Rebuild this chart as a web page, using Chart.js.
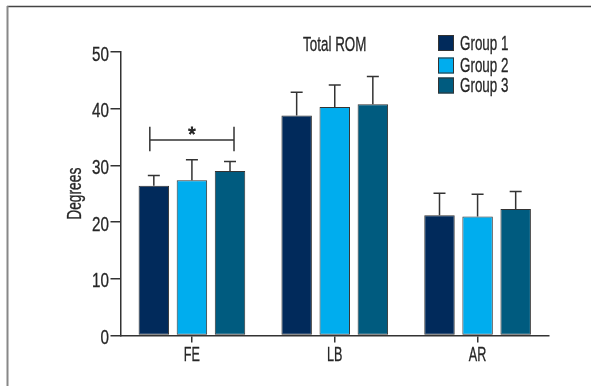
<!DOCTYPE html>
<html lang="en">
<head>
<meta charset="UTF-8">
<title>Total ROM</title>
<script src="https://cdn.jsdelivr.net/npm/chart.js@4"></script>
<style>
  body { margin: 0; background: #fff; }
  canvas { display: block; }
</style>
</head>
<body>
<canvas id="romChart" width="591" height="386"></canvas>
<script>
  // values
  const categories = ['FE', 'LB', 'AR'];
  const groupNames = ['Group 1', 'Group 2', 'Group 3'];
  const group1 = [26.4, 38.8, 21.2];
  const group2 = [27.4, 40.3, 21.0];
  const group3 = [29.0, 40.8, 22.3];
  const group1Err = [1.8, 4.1, 3.9];
  const group2Err = [3.6, 3.9, 3.9];
  const group3Err = [1.7, 4.9, 3.1];
  const yTicks = [0, 10, 20, 30, 40, 50];
  const colors = ['#012a5b', '#00adee', '#005b7f'];

  // the original uses a condensed face; squeeze Liberation Sans horizontally
  const FONT = "20px 'Liberation Sans', Arial, sans-serif";
  const INK = '#333';
  const TEXT = '#262626';

  function narrowText(ctx, text, x, y, align, sx, angle, weight) {
    ctx.save();
    ctx.translate(x, y);
    if (angle) ctx.rotate(angle);
    ctx.scale(sx, 1);
    ctx.font = FONT;
    ctx.fillStyle = TEXT;
    ctx.strokeStyle = TEXT;
    ctx.lineWidth = weight === undefined ? 0.3 : weight;
    ctx.textAlign = align;
    ctx.textBaseline = 'alphabetic';
    ctx.fillText(text, 0, 0);
    if (ctx.lineWidth > 0) ctx.strokeText(text, 0, 0);
    ctx.restore();
  }

  const extras = {
    id: 'extras',
    beforeDraw(chart) {
      const ctx = chart.ctx;
      ctx.save();
      // frame around the figure
      ctx.strokeStyle = '#444';
      ctx.lineWidth = 1.5;
      ctx.beginPath();
      ctx.moveTo(7, 6.5);
      ctx.lineTo(591, 6.5);
      ctx.stroke();
      ctx.strokeStyle = '#888';
      ctx.lineWidth = 2;
      ctx.beginPath();
      ctx.moveTo(7.5, 6);
      ctx.lineTo(7.5, 386);
      ctx.stroke();
      ctx.restore();
    },
    afterDatasetsDraw(chart) {
      const ctx = chart.ctx;
      const y = chart.scales.y;
      ctx.save();
      ctx.strokeStyle = INK;
      ctx.lineWidth = 1.5;
      // error bars (upper only)
      chart.data.datasets.forEach((ds, i) => {
        chart.getDatasetMeta(i).data.forEach((bar, j) => {
          const top = y.getPixelForValue(ds.data[j] + ds.err[j]);
          ctx.beginPath();
          ctx.moveTo(bar.x, bar.y);
          ctx.lineTo(bar.x, top);
          ctx.moveTo(bar.x - 6, top);
          ctx.lineTo(bar.x + 6, top);
          ctx.stroke();
        });
      });
      // significance bracket, FE group 1 vs group 3
      const b1 = chart.getDatasetMeta(0).data[0];
      const b3 = chart.getDatasetMeta(2).data[0];
      const x1 = b1.x - 4, x2 = b3.x + 4;
      const yl = y.getPixelForValue(34.5);
      const yHi = y.getPixelForValue(36.8);
      const yLo = y.getPixelForValue(32.5);
      ctx.beginPath();
      ctx.moveTo(x1, yl); ctx.lineTo(x2, yl);
      ctx.moveTo(x1, yHi); ctx.lineTo(x1, yLo);
      ctx.moveTo(x2, yHi); ctx.lineTo(x2, yLo);
      ctx.stroke();
      ctx.restore();
      narrowText(ctx, '*', (x1 + x2) / 2, yl + 1.5, 'center', 0.95, 0, 0);
    },
    afterDraw(chart) {
      const ctx = chart.ctx;
      const area = chart.chartArea;
      const x = chart.scales.x, y = chart.scales.y;

      // tick labels
      yTicks.forEach(v => {
        narrowText(ctx, String(v), area.left - 11.5, y.getPixelForValue(v) + 8.5, 'right', 0.76);
      });
      categories.forEach((c, i) => {
        narrowText(ctx, c, x.getPixelForValue(i), 361, 'center', 0.63);
      });
      narrowText(ctx, 'Degrees', 81, (area.top + area.bottom) / 2, 'center', 0.69, -Math.PI / 2);

      // title
      narrowText(ctx, 'Total ROM', (area.left + area.right) / 2, 50.7, 'center', 0.67);

      // legend
      const tops = [35, 57.5, 77.5];
      chart.data.datasets.forEach((ds, i) => {
        ctx.save();
        ctx.fillStyle = ds.backgroundColor;
        ctx.fillRect(438, tops[i], 16, 16);
        ctx.strokeStyle = INK;
        ctx.lineWidth = 1;
        ctx.strokeRect(438.5, tops[i] + 0.5, 15, 15);
        ctx.restore();
        narrowText(ctx, ds.label, 460, tops[i] + 14.5, 'left', 0.67);
      });
    }
  };

  const errs = [group1Err, group2Err, group3Err];
  const datasets = [group1, group2, group3].map((vals, i) => ({
    label: groupNames[i],
    data: vals,
    err: errs[i],
    backgroundColor: colors[i],
    borderColor: INK,
    borderWidth: 1,
    borderSkipped: false,
    categoryPercentage: 0.8,
    barPercentage: 0.8
  }));

  new Chart(document.getElementById('romChart'), {
    type: 'bar',
    data: { labels: categories, datasets: datasets },
    options: {
      responsive: false,
      animation: false,
      layout: { padding: { top: 52, right: 42, left: 0, bottom: 0 } },
      plugins: {
        legend: { display: false },
        title: { display: false },
        tooltip: { enabled: false }
      },
      scales: {
        x: {
          afterFit: s => { s.height = 50.5; },
          grid: { offset: false, drawOnChartArea: false, drawTicks: true, tickLength: 7, color: INK, lineWidth: 1.5 },
          border: { display: true, color: INK, width: 1.5 },
          ticks: { display: false }
        },
        y: {
          min: 0,
          max: 50,
          afterFit: s => { s.width = 120.5; },
          afterBuildTicks: s => { s.ticks = yTicks.map(v => ({ value: v })); },
          grid: { drawOnChartArea: false, drawTicks: true, tickLength: 10, color: INK, lineWidth: 1.5 },
          border: { display: true, color: INK, width: 1.5 },
          ticks: { display: false }
        }
      }
    },
    plugins: [extras]
  });
</script>
</body>
</html>
